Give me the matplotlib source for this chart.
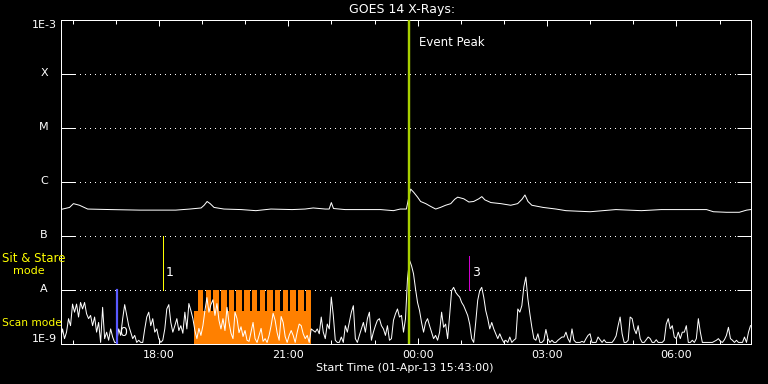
import numpy as np
import matplotlib
matplotlib.use("Agg")
import matplotlib.pyplot as plt
from matplotlib.transforms import blended_transform_factory

# ---------------- data ----------------
start_label = "Start Time (01-Apr-13 15:43:00)"
start_clock = "15:43"
span_hours = 16.0

# GOES long channel (1-8 A): hours since start, log10 flux
long_hours = [0.00, 0.21, 0.30, 0.44, 0.63, 1.16, 1.84, 2.67, 3.00, 3.26,
              3.33, 3.40, 3.47, 3.56, 3.79, 4.19, 4.53, 4.88, 5.37, 5.67,
              5.86, 6.14, 6.23, 6.28, 6.33, 6.60, 6.95, 7.42, 7.72, 7.88,
              8.02, 8.07, 8.12, 8.19, 8.28, 8.35, 8.47, 8.58, 8.70, 8.81,
              8.93, 9.05, 9.14, 9.21, 9.35, 9.47, 9.58, 9.70, 9.77, 9.84,
              9.98, 10.21, 10.44, 10.60, 10.70, 10.77, 10.84, 10.93, 11.19, 11.49,
              11.72, 12.28, 12.88, 13.47, 13.93, 14.98, 15.14, 15.44, 15.74, 15.91,
              16.00]
long_logflux = [-6.52, -6.48, -6.41, -6.44, -6.51, -6.52, -6.53, -6.53, -6.51, -6.49,
                -6.44, -6.37, -6.41, -6.48, -6.51, -6.52, -6.54, -6.51, -6.52, -6.51,
                -6.49, -6.51, -6.51, -6.39, -6.50, -6.52, -6.52, -6.52, -6.54, -6.51,
                -6.51, -6.32, -6.14, -6.20, -6.29, -6.37, -6.41, -6.46, -6.51, -6.48,
                -6.44, -6.41, -6.33, -6.29, -6.32, -6.38, -6.37, -6.32, -6.28, -6.34,
                -6.39, -6.41, -6.44, -6.41, -6.33, -6.25, -6.37, -6.44, -6.48, -6.51,
                -6.54, -6.56, -6.52, -6.54, -6.52, -6.52, -6.56, -6.57, -6.57, -6.53,
                -6.52]

# GOES short channel (0.5-4 A): log10 flux, regular cadence over the 16 h window
short_logflux = [
    -8.94, -8.73, -8.91, -8.79, -8.54, -8.67, -8.27, -8.42, -8.27, -8.51,
    -8.24, -8.36, -8.24, -8.45, -8.54, -8.48, -8.67, -8.51, -8.79, -8.61,
    -8.98, -8.33, -8.91, -8.79, -8.94, -8.73, -8.88, -8.98, -8.98, -8.73,
    -8.85, -8.54, -8.28, -8.48, -8.67, -8.79, -8.91, -8.85, -8.98, -8.94,
    -8.98, -8.98, -8.73, -8.51, -8.42, -8.67, -8.54, -8.79, -8.73, -8.91,
    -8.98, -8.94, -8.73, -8.36, -8.28, -8.61, -8.79, -8.67,
    -8.54, -8.76, -8.67, -8.81, -8.42, -8.73, -8.26, -8.39, -8.54, -8.76,
    -8.91, -8.72, -8.85, -8.67, -8.39, -8.15, -8.42, -8.28, -8.19, -8.48,
    -8.26, -8.57, -8.73, -8.54, -8.76, -8.33, -8.61, -8.81, -8.91, -8.42,
    -8.54, -8.80, -8.69, -8.87, -8.76, -8.94, -8.96, -8.78, -8.61, -8.91,
    -8.98, -8.85, -8.72, -8.96, -8.91, -8.98, -8.85, -8.67, -8.44, -8.57,
    -8.80, -8.94, -8.50, -8.61, -8.87, -8.98, -8.85, -8.76,
    -8.85, -8.98, -8.79, -8.64, -8.67, -8.82, -8.91, -8.85, -8.98, -8.73,
    -8.76, -8.79, -8.73, -8.82, -8.51, -8.79, -8.91, -8.64, -8.73, -8.14,
    -8.48, -8.94, -8.98, -8.98, -8.88, -8.98, -8.67, -8.79, -8.61, -8.42,
    -8.30, -8.91, -8.98, -8.85, -8.73, -8.61, -8.79, -8.54, -8.42, -8.94,
    -8.79, -8.67, -8.57, -8.54, -8.67, -8.73, -8.85, -8.67, -8.94, -8.91,
    -8.57, -8.45, -8.36, -8.51, -8.48, -8.79, -8.54, -7.80,
    -7.46, -7.56, -7.71, -7.99, -8.24, -8.39, -8.61, -8.79, -8.61, -8.54,
    -8.67, -8.79, -8.91, -8.85, -8.94, -8.79, -8.42, -8.70, -8.64, -8.91,
    -8.48, -8.02, -7.96, -8.05, -8.10, -8.14, -8.24, -8.30, -8.39, -8.48,
    -8.64, -8.91, -8.98, -8.61, -8.20, -8.02, -7.96, -8.14, -8.39, -8.54,
    -8.73, -8.61, -8.73, -8.82, -8.91, -8.82, -8.91, -8.98, -8.94, -8.98,
    -8.88, -8.98, -8.94, -8.91, -8.36, -8.42, -8.30, -7.95,
    -7.77, -8.17, -8.45, -8.70, -8.91, -8.94, -8.82, -8.98, -8.98, -8.94,
    -8.74, -8.91, -8.98, -8.94, -8.98, -8.98, -8.94, -8.91, -8.88, -8.88,
    -8.79, -8.91, -8.98, -8.73, -8.94, -8.98, -8.98, -8.98, -8.96, -8.98,
    -8.91, -8.85, -8.82, -8.98, -8.98, -8.98, -8.88, -8.93, -8.98, -8.93,
    -8.98, -8.98, -8.98, -8.98, -8.93, -8.86, -8.67, -8.51, -8.82, -8.98,
    -8.98, -8.94, -8.51, -8.54, -8.73, -8.82, -8.67, -8.91,
    -8.98, -8.98, -8.93, -8.88, -8.91, -8.98, -8.98, -8.93, -8.98, -8.98,
    -8.98, -8.94, -8.64, -8.54, -8.73, -8.67, -8.88, -8.91, -8.79, -8.91,
    -8.79, -8.79, -8.67, -8.98, -8.98, -8.94, -8.98, -8.91, -8.54, -8.79,
    -8.98, -8.98, -8.98, -8.98, -8.98, -8.98, -8.96, -8.94, -8.91, -8.96,
    -8.98, -8.93, -8.85, -8.70, -8.91, -8.94, -8.98, -8.94, -8.98, -8.98,
    -8.98, -8.88, -8.98, -8.79, -8.67,
]

# flare-class levels
level_labels = ["1E-9", "A", "B", "C", "M", "X", "1E-3"]
level_values = [1e-9, 1e-8, 1e-7, 1e-6, 1e-5, 1e-4, 1e-3]

# time axis
tick_labels = ["18:00", "21:00", "00:00", "03:00", "06:00"]
minor_tick_clock_hours = [16, 17, 18, 19, 20, 21, 22, 23, 0, 1, 2, 3, 4, 5, 6, 7]

# observing-mode bars (hours since start)
scan_mode_span = [3.096, 5.802]
scan_mode_level = 10 ** -8.39
stare_level = 1e-8
stare_starts = [3.188, 3.367, 3.545, 3.724, 3.903, 4.081, 4.260, 4.438,
                4.617, 4.795, 4.974, 5.152, 5.331, 5.510, 5.688]
stare_duration = 0.126

# event markers: label, clock time, colour, bottom flux, top flux
event_peak_clock = "23:48"
markers = [("0", "17:01", "#5a5aff", 1e-9, 1e-8),
           ("1", "18:06", "#ffff00", 1e-8, 1e-7),
           ("3", "01:12", "#d000d0", 1e-8, 10 ** -7.38)]
marker_label_flux = {"0": 10 ** -8.80, "1": 10 ** -7.68, "3": 10 ** -7.68}

# ---------------- helpers ----------------
sh, sm = map(int, start_clock.split(":"))
start_min = sh * 60 + sm


def clock_to_hours(s):
    hh, mm = map(int, s.split(":"))
    return ((hh * 60 + mm - start_min) % 1440) / 60.0


# ---------------- figure ----------------
W, H = 768, 384
fig = plt.figure(figsize=(W / 100, H / 100), dpi=100, facecolor="black")
L, R, T, B = 60.5, 750.5, 19.5, 343.5
ax = fig.add_axes([L / W, 1 - B / H, (R - L) / W, (B - T) / H])
ax.set_facecolor("black")
ax.set_yscale("log")
ax.set_xlim(0, span_hours)
ax.set_ylim(1e-9, 1e-3)

px = 100 / 72.0  # pixels per point
lw1 = 1 / px

# dotted level lines
tick_px = 14
gap = tick_px / (R - L)
bt = blended_transform_factory(ax.transAxes, ax.transData)
for v in level_values[1:-1]:
    ax.plot([gap, 1 - gap], [v, v], transform=bt, color="white",
            lw=lw1, ls=(0, (1, 5)), zorder=1, antialiased=False)

# observing mode bars
ax.bar(scan_mode_span[0], scan_mode_level - 1e-9, bottom=1e-9,
       width=scan_mode_span[1] - scan_mode_span[0], align="edge",
       color="#ff8000", linewidth=0, zorder=2, antialiased=False)
ax.bar(stare_starts, [stare_level - scan_mode_level] * len(stare_starts),
       bottom=scan_mode_level, width=stare_duration, align="edge",
       color="#ff8000", linewidth=0, zorder=2, antialiased=False)

# curves
short_hours = np.linspace(0, span_hours, len(short_logflux))
ax.plot(short_hours, 10 ** np.array(short_logflux), color="white", lw=lw1, zorder=3)
ax.plot(long_hours, 10 ** np.array(long_logflux), color="white", lw=lw1, zorder=3)

# event markers
for lab, clk, col, y0, y1 in markers:
    t = clock_to_hours(clk)
    if lab == "0":
        ax.plot([t, t], [y0, y1], color=col, lw=2.2 / px, zorder=4)
    else:
        ax.plot([t, t], [y0, y1], color=col, lw=lw1, zorder=4, antialiased=False)
    ax.text(t + 0.05, marker_label_flux[lab], lab, color="white", fontsize=9,
            va="center", ha="left", zorder=5)

tp = clock_to_hours(event_peak_clock)
ax.axvline(tp, color="#a8d000", lw=2.4 / px, zorder=4)
ax.text(tp + 0.24, 10 ** -3.43, "Event Peak", color="white", fontsize=8.5,
        va="center", ha="left")

# spines & ticks
for s in ax.spines.values():
    s.set_color("white")
    s.set_linewidth(lw1)

ax.set_xticks([clock_to_hours(t) for t in tick_labels])
ax.set_xticklabels(tick_labels)
ax.set_xticks([((h * 60 - start_min) % 1440) / 60 for h in minor_tick_clock_hours],
              minor=True)
ax.tick_params(axis="x", which="both", direction="in", top=True, bottom=True,
               colors="white", width=lw1, labelsize=8, pad=5)
ax.tick_params(axis="x", which="major", length=6 / px)
ax.tick_params(axis="x", which="minor", length=4 / px)

ax.set_yticks(level_values)
ax.set_yticklabels([])
ax.yaxis.set_minor_locator(matplotlib.ticker.NullLocator())
ax.tick_params(axis="y", which="major", direction="in", left=True, right=True,
               colors="white", width=lw1, length=tick_px / px)

# y level labels
yt = blended_transform_factory(fig.transFigure, ax.transData)
xc = 44 / W
for lab, v in zip(level_labels, level_values):
    va = "top" if lab == "1E-3" else ("bottom" if lab == "1E-9" else "center")
    ax.text(xc, v, lab, transform=yt, color="white", fontsize=8, ha="center", va=va)

# mode labels
fig.text(2 / W, 1 - 259 / H, "Sit & Stare", color="#ffff00", fontsize=8.5,
         ha="left", va="center", zorder=10)
fig.text(13 / W, 1 - 271 / H, "mode", color="#ffff00", fontsize=8,
         ha="left", va="center", zorder=10)
fig.text(2 / W, 1 - 323 / H, "Scan mode", color="#ffff00", fontsize=7.7,
         ha="left", va="center", zorder=10)

# title & x label
fig.text(402.5 / W, 1 - 9 / H, "GOES 14 X-Rays:", color="white", fontsize=9,
         ha="center", va="center")
fig.text(405 / W, 1 - 368 / H, start_label, color="white", fontsize=8,
         ha="center", va="center")

fig.savefig("out.png", dpi=100, facecolor="black")
